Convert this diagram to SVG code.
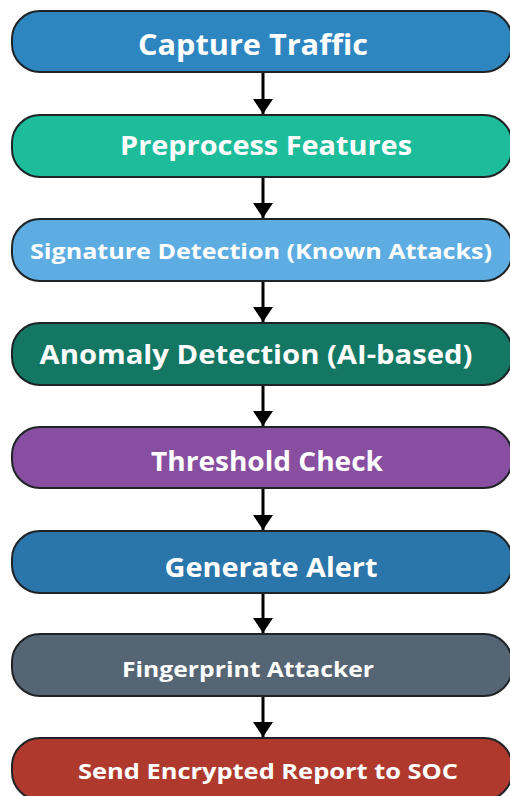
<svg xmlns="http://www.w3.org/2000/svg" width="510" height="796" viewBox="0 0 510 796">
  <defs>
    <!-- filled triangular arrowhead, drawn pointing along +x so orient="auto" turns it down the line -->
    <marker id="arrow" markerWidth="16" markerHeight="20" refX="15" refY="10" orient="auto" markerUnits="userSpaceOnUse" viewBox="0 0 16 20">
      <path d="M0,0 L15,10 L0,20 Z" fill="#000"/>
    </marker>
  </defs>
  <style>
    .box { stroke: #1f2326; stroke-width: 2; }
    .label { fill: #fff; font-family: "Open Sans", "DejaVu Sans", sans-serif; font-weight: bold; text-anchor: middle; }
    .conn { stroke: #000; stroke-width: 3; fill: none; }
  </style>
  <rect width="510" height="796" fill="#fff"/>

  <g id="connectors">
    <line class="conn" x1="263" y1="72" x2="263" y2="114" marker-end="url(#arrow)"/>
    <line class="conn" x1="263" y1="177" x2="263" y2="218" marker-end="url(#arrow)"/>
    <line class="conn" x1="263" y1="281" x2="263" y2="322" marker-end="url(#arrow)"/>
    <line class="conn" x1="263" y1="385" x2="263" y2="426" marker-end="url(#arrow)"/>
    <line class="conn" x1="263" y1="488" x2="263" y2="530" marker-end="url(#arrow)"/>
    <line class="conn" x1="263" y1="593" x2="263" y2="633" marker-end="url(#arrow)"/>
    <line class="conn" x1="263" y1="696" x2="263" y2="737" marker-end="url(#arrow)"/>
  </g>

  <g id="capture-traffic">
    <rect class="box" x="12" y="11" width="500" height="61" rx="28" fill="#2E86C1"/>
    <text class="label" x="253" y="55" font-size="28" textLength="230" lengthAdjust="spacingAndGlyphs">Capture Traffic</text>
  </g>
  <g id="preprocess-features">
    <rect class="box" x="12" y="115" width="500" height="62" rx="28" fill="#1DBC9B"/>
    <text class="label" x="266" y="155" font-size="27" textLength="292" lengthAdjust="spacingAndGlyphs">Preprocess Features</text>
  </g>
  <g id="signature-detection">
    <rect class="box" x="12" y="219" width="500" height="62" rx="28" fill="#5DADE2"/>
    <text class="label" x="261" y="259" font-size="22" textLength="462" lengthAdjust="spacingAndGlyphs">Signature Detection (Known Attacks)</text>
  </g>
  <g id="anomaly-detection">
    <rect class="box" x="12" y="323" width="500" height="62" rx="28" fill="#137763"/>
    <text class="label" x="256" y="364" font-size="27" textLength="433" lengthAdjust="spacingAndGlyphs">Anomaly Detection (AI-based)</text>
  </g>
  <g id="threshold-check">
    <rect class="box" x="12" y="427" width="500" height="61" rx="28" fill="#884EA0"/>
    <text class="label" x="267" y="471" font-size="26" textLength="232" lengthAdjust="spacingAndGlyphs">Threshold Check</text>
  </g>
  <g id="generate-alert">
    <rect class="box" x="12" y="531" width="500" height="62" rx="28" fill="#2A75AA"/>
    <text class="label" x="271" y="577" font-size="26" textLength="213" lengthAdjust="spacingAndGlyphs">Generate Alert</text>
  </g>
  <g id="fingerprint-attacker">
    <rect class="box" x="12" y="634" width="500" height="62" rx="28" fill="#566573"/>
    <text class="label" x="248" y="677" font-size="21" textLength="252" lengthAdjust="spacingAndGlyphs">Fingerprint Attacker</text>
  </g>
  <g id="send-report">
    <rect class="box" x="12" y="738" width="500" height="62" rx="28" fill="#B0392E"/>
    <text class="label" x="268" y="779" font-size="22" textLength="380" lengthAdjust="spacingAndGlyphs">Send Encrypted Report to SOC</text>
  </g>
</svg>
